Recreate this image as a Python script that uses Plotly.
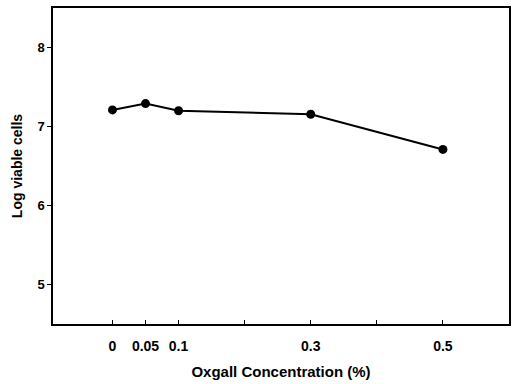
import plotly.graph_objects as go

oxgall = [0, 0.05, 0.1, 0.3, 0.5]
log_cells = [7.21, 7.29, 7.2, 7.155, 6.71]
x_tick_vals = [0, 0.05, 0.1, 0.2, 0.3, 0.4, 0.5]
x_tick_text = ["0", "0.05", "0.1", "", "0.3", "", "0.5"]
y_tick_vals = [5, 6, 7, 8]

fig = go.Figure()
fig.add_trace(go.Scatter(
    x=oxgall, y=log_cells, mode="lines+markers",
    line=dict(color="black", width=2),
    marker=dict(color="black", size=9),
    showlegend=False,
))

fam = "Liberation Sans, Arial, sans-serif"
fig.update_layout(
    width=517, height=384,
    margin=dict(l=53, r=7, t=6, b=58),
    paper_bgcolor="white", plot_bgcolor="white",
    font=dict(family=fam, color="black"),
    xaxis=dict(
        range=[-0.09, 0.6], tickvals=x_tick_vals, ticktext=x_tick_text,
        ticks="inside", ticklen=4, tickcolor="black",
        showline=True, linecolor="black", linewidth=1.5, mirror=True,
        showgrid=False, zeroline=False, ticklabelstandoff=8,
        tickfont=dict(size=14, family=fam, weight="bold"),
        title=dict(text="<b>Oxgall Concentration (%)</b>", font=dict(size=15), standoff=14),
    ),
    yaxis=dict(
        range=[4.5, 8.5], tickvals=y_tick_vals,
        ticks="outside", ticklen=4, tickcolor="black",
        showline=True, linecolor="black", linewidth=1.5, mirror=True,
        showgrid=False, zeroline=False,
        tickfont=dict(size=13, family=fam, weight="bold"),
        title=dict(text="<b>Log viable cells</b>", font=dict(size=14), standoff=12),
    ),
)
fig.write_html("out.html")
